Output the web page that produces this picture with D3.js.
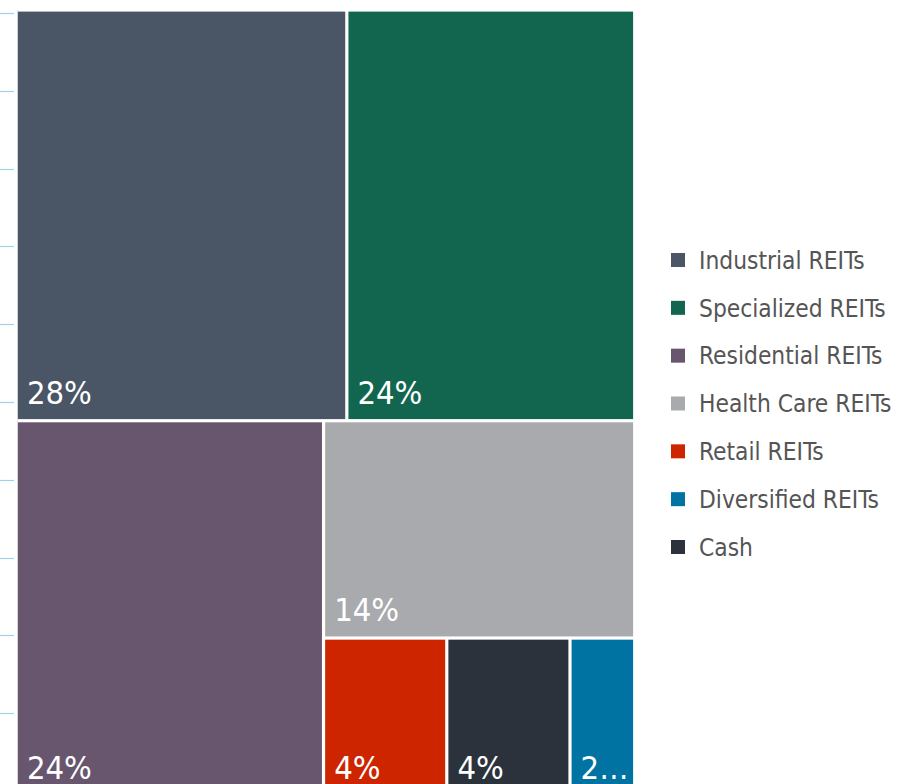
<!DOCTYPE html>
<html>
<head>
<meta charset="utf-8">
<script src="https://cdn.jsdelivr.net/npm/d3@7"></script>
<style>
  html, body { margin: 0; padding: 0; background: #ffffff; }
  svg { display: block; }
  text { font-family: "DejaVu Sans Condensed", "DejaVu Sans", sans-serif; }
</style>
</head>
<body>
<svg id="chart" width="897" height="784"></svg>
<script>
// ---- data ----
const categories = ["Industrial REITs", "Specialized REITs", "Residential REITs", "Health Care REITs", "Retail REITs", "Diversified REITs", "Cash"];
const values = [27.9, 24.3, 23.7, 13.9, 4.0, 2.1, 4.0];
const gridTicks = [0, 10, 20, 30, 40, 50, 60, 70, 80, 90, 100];

// ---- styles ----
const colors = ["#4a5565", "#12664f", "#68566f", "#a9aaad", "#cc2500", "#0073a3", "#2b323b"];

const svg = d3.select("#chart");
const W = 897, H = 784;

const plot = { x0: 16.3, x1: 634.7, y0: 10, y1: 796 };

// light gridline stubs at the left
const yGrid = d3.scaleLinear().domain([0, 100]).range([791, 13]);
svg.append("g").selectAll("line").data(gridTicks).join("line")
  .attr("x1", 0).attr("x2", 14)
  .attr("y1", d => Math.round(yGrid(d)) + 0.5)
  .attr("y2", d => Math.round(yGrid(d)) + 0.5)
  .attr("stroke", "#9fd0ee").attr("stroke-width", 1.2);

// faint axis line
svg.append("line")
  .attr("x1", 17.5).attr("x2", 17.5).attr("y1", plot.y0).attr("y2", H)
  .attr("stroke", "#e3e3e3").attr("stroke-width", 1);

// ---- treemap ----
const rootData = { name: "root", children: categories.map((c, i) => ({ name: c, value: values[i], color: colors[i] })) };
const root = d3.hierarchy(rootData).sum(d => d.value || 0).sort((a, b) => b.value - a.value);
const total = d3.sum(values);

d3.treemap()
  .tile(d3.treemapSquarify.ratio(1))
  .size([plot.x1 - plot.x0, plot.y1 - plot.y0])
  .round(false)(root);

const inset = 1.6;
const g = svg.append("g").attr("transform", `translate(${plot.x0},${plot.y0})`);

const cells = g.selectAll("g.cell").data(root.leaves()).join("g").attr("class", "cell");
cells.append("rect")
  .attr("x", d => d.x0 + inset)
  .attr("y", d => d.y0 + inset)
  .attr("width", d => Math.max(0, d.x1 - d.x0 - 2 * inset))
  .attr("height", d => Math.max(0, d.y1 - d.y0 - 2 * inset))
  .attr("fill", d => d.data.color);

const pad = 9;
cells.append("text")
  .attr("x", d => d.x0 + inset + pad)
  .attr("y", d => d.y1 - inset - 15)
  .attr("fill", "#ffffff")
  .attr("font-size", 32.5)
  .text(d => Math.round(d.value / total * 100) + "%")
  .each(function (d) {
    const el = d3.select(this);
    const full = el.text();
    const avail = (d.x1 - d.x0 - 2 * inset) - 2 * pad - 2;
    if (this.getComputedTextLength() > avail) {
      for (let n = full.length - 1; n >= 1; n--) {
        el.text(full.slice(0, n) + "…");
        if (this.getComputedTextLength() <= avail || n === 1) break;
      }
    }
  });

// ---- legend ----
const ly = d3.scalePoint().domain(categories).range([260, 547]);
const legend = svg.append("g");
const items = legend.selectAll("g").data(categories).join("g")
  .attr("transform", d => `translate(671,${ly(d)})`);
items.append("rect")
  .attr("x", 0).attr("y", -7).attr("width", 14).attr("height", 14)
  .attr("fill", (d, i) => colors[i]);
items.append("text")
  .attr("x", 28).attr("y", 0).attr("dy", "0.36em")
  .attr("font-size", 24.3)
  .attr("fill", "#555555")
  .text(d => d);
</script>
</body>
</html>
